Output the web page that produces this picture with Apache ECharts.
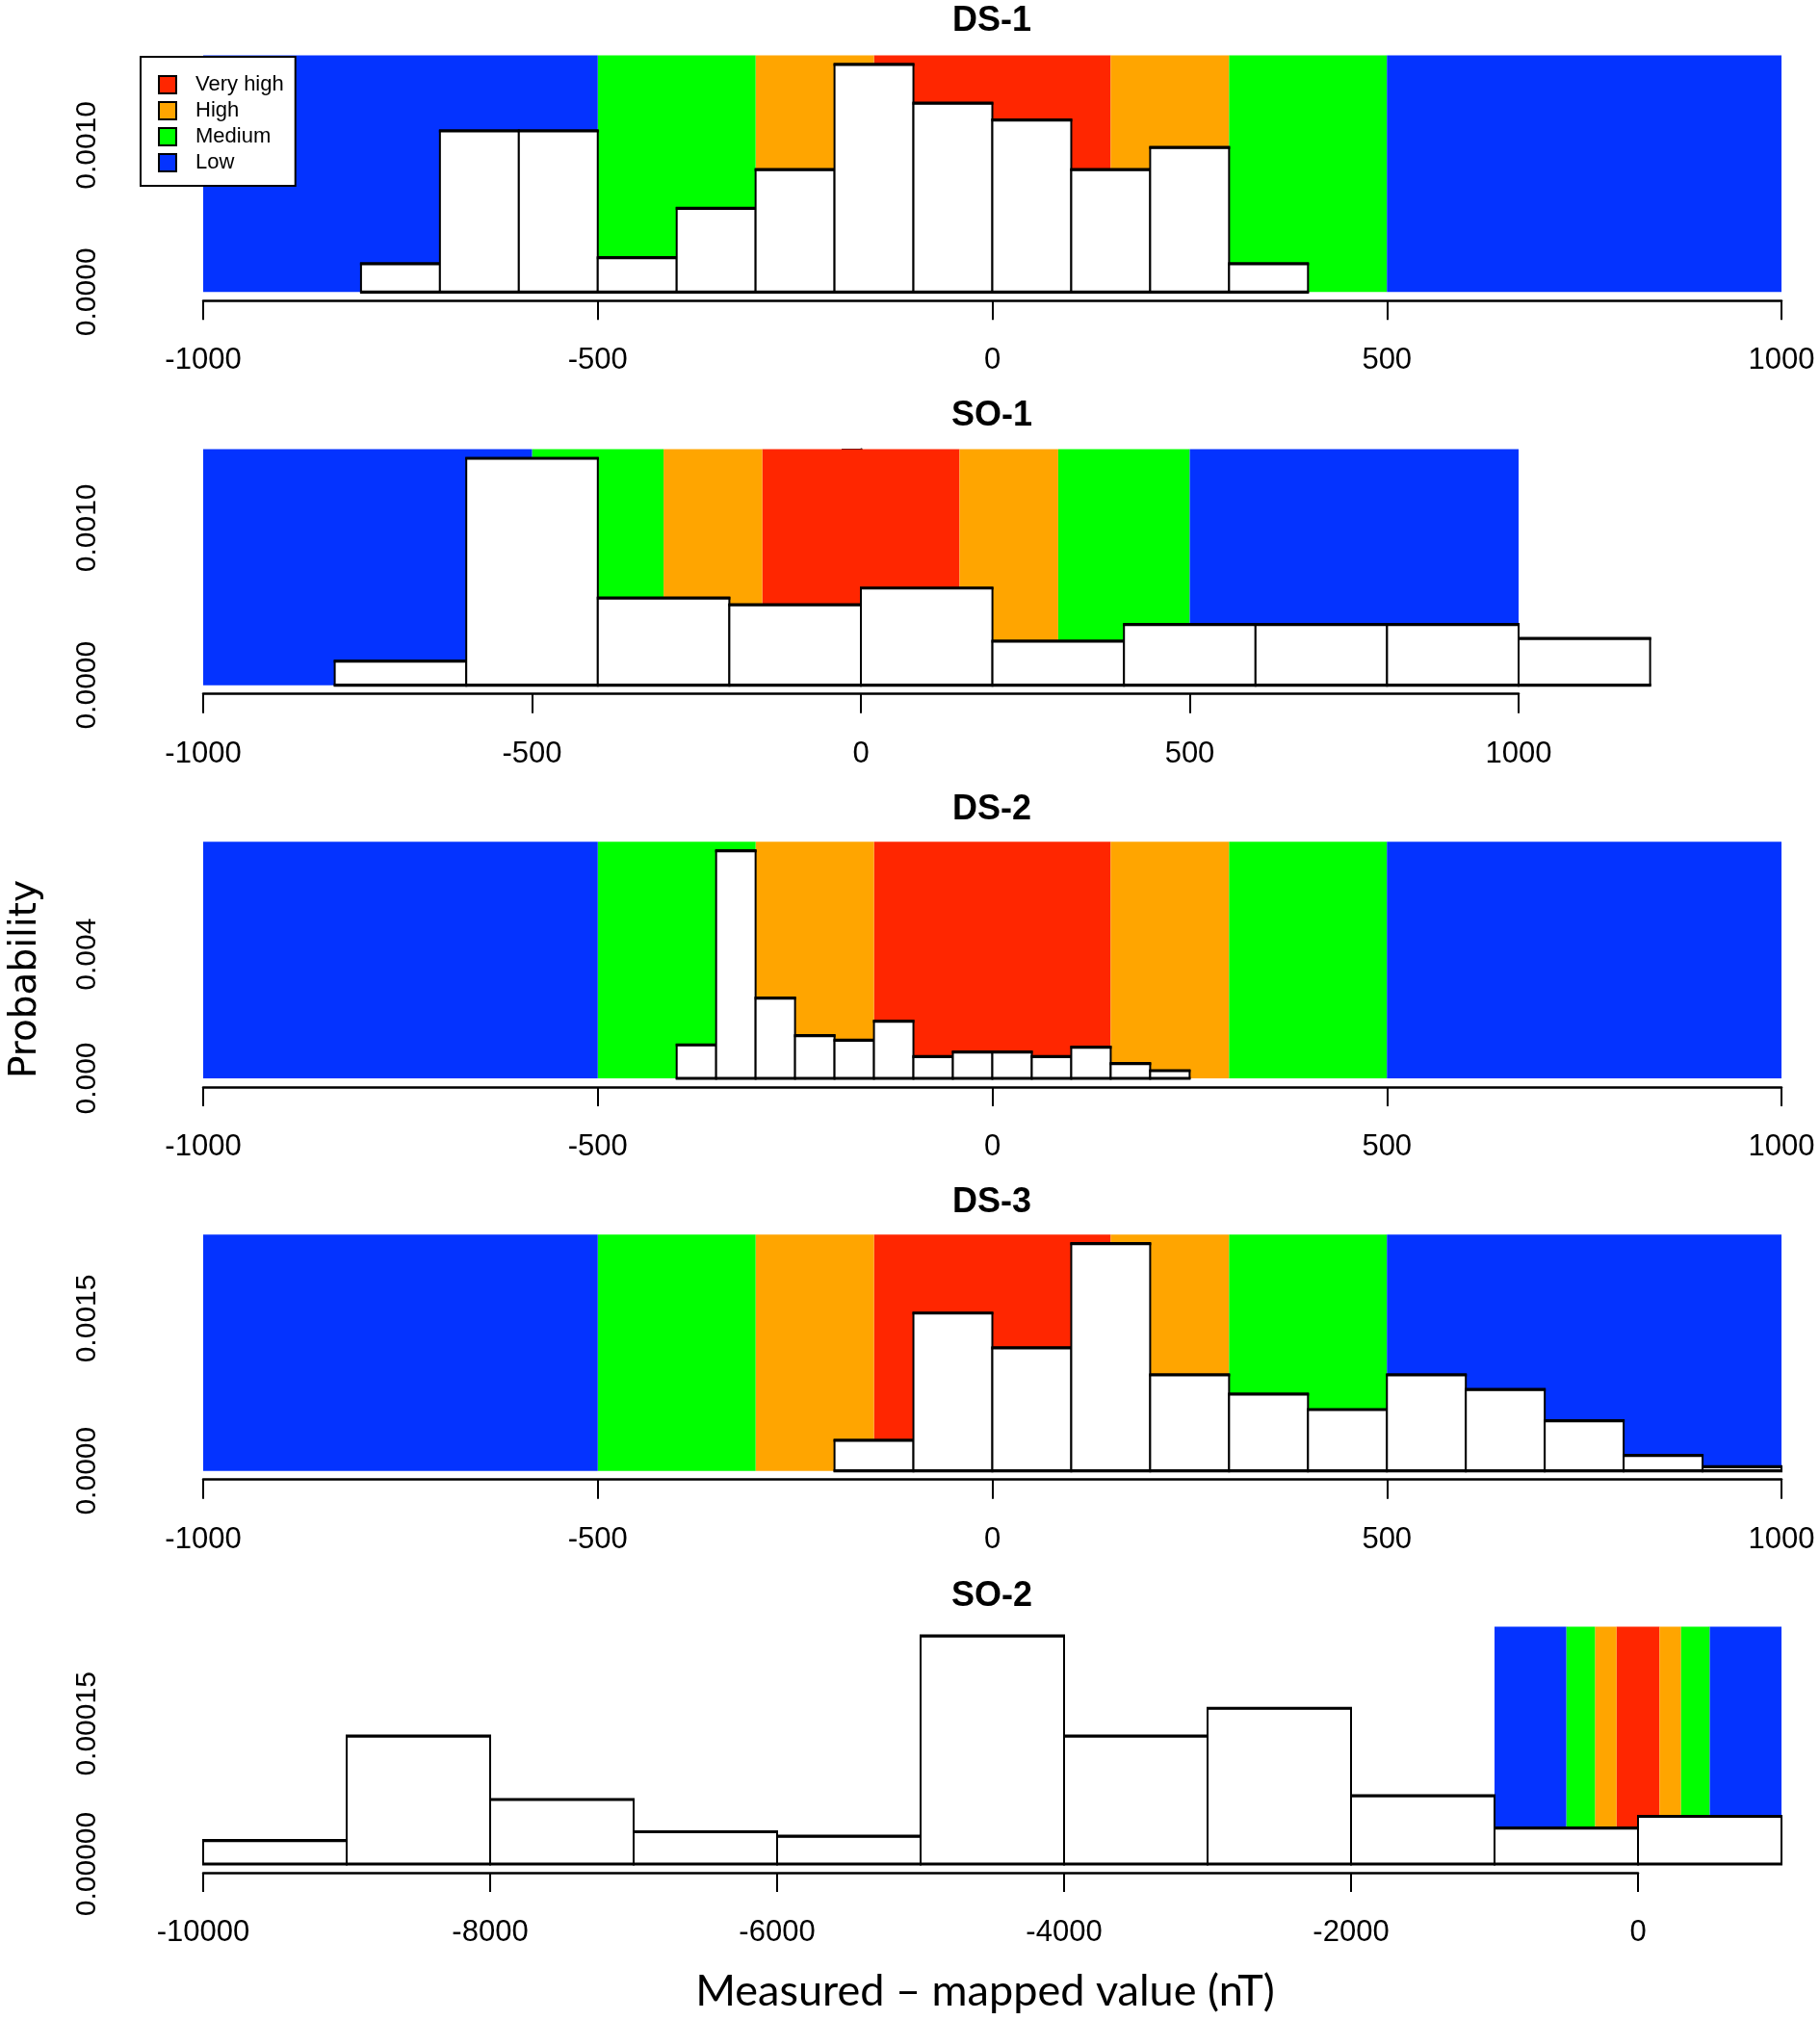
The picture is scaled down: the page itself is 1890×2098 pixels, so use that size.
<!DOCTYPE html>
<html>
<head>
<meta charset="utf-8">
<script src="https://cdn.jsdelivr.net/npm/echarts@6/dist/echarts.min.js"></script>
<style>
html,body{margin:0;padding:0;background:#fff;}
#chart{width:1890px;height:2098px;}
</style>
</head>
<body>
<div id="chart"></div>
<script>
// ---------- DATA ----------
const panelTitles = ['DS-1', 'SO-1', 'DS-2', 'DS-3', 'SO-2'];

const ds1Breaks = [-800, -700, -600, -500, -400, -300, -200, -100, 0, 100, 200, 300, 400];
const ds1Density = [0.000193, 0.001098, 0.001098, 0.000234, 0.000571, 0.000834, 0.001551, 0.001287, 0.001173, 0.000834, 0.000985, 0.000193];

const so1Breaks = [-800, -600, -400, -200, 0, 200, 400, 600, 800, 1000, 1200];
const so1Density = [0.000153, 0.001443, 0.000555, 0.000512, 0.000618, 0.000280, 0.000386, 0.000386, 0.000386, 0.000298];

const ds2Breaks = [-400, -350, -300, -250, -200, -150, -100, -50, 0, 50, 100, 150, 200, 250];
const ds2Density = [0.001078, 0.007337, 0.002591, 0.001378, 0.001233, 0.001845, 0.000705, 0.000850, 0.000850, 0.000705, 0.001005, 0.000477, 0.000249];

const ds3Breaks = [-200, -100, 0, 100, 200, 300, 400, 500, 600, 700, 800, 900, 1000];
const ds3Density = [0.000301, 0.001554, 0.001212, 0.002237, 0.000946, 0.000756, 0.000604, 0.000946, 0.000801, 0.000494, 0.000152, 0.000041];

const so2Breaks = [-10000, -9000, -8000, -7000, -6000, -5000, -4000, -3000, -2000, -1000, 0, 1000];
const so2Density = [0.0000252, 0.0001369, 0.0000690, 0.0000345, 0.0000297, 0.0002441, 0.0001369, 0.0001666, 0.0000731, 0.0000386, 0.0000510];

// susceptibility classes along the x axis (same for every panel)
const bandEdges = [-1000, -500, -300, -150, 150, 300, 500, 1000];
const bandLevels = ['Low', 'Medium', 'High', 'Very high', 'High', 'Medium', 'Low'];
const levelNames = ['Very high', 'High', 'Medium', 'Low'];

// tick labels
const dsXLabels = ['-1000', '-500', '0', '500', '1000'];
const so2XLabels = ['-10000', '-8000', '-6000', '-4000', '-2000', '0'];
const ds1YLabels = ['0.0000', '', '0.0010', ''];
const so1YLabels = ['0.0000', '', '0.0010', ''];
const ds2YLabels = ['0.000', '', '0.004', ''];
const ds3YLabels = ['0.0000', '', '', '0.0015', ''];
const so2YLabels = ['0.00000', '', '', '0.00015', '', ''];

const xAxisTitle = 'Measured \u2013 mapped value (nT)';
const yAxisTitle = 'Probability';

// ---------- STYLE / LAYOUT ----------
const levelColors = { 'Very high': '#FF2600', 'High': '#FFA500', 'Medium': '#00FF00', 'Low': '#0433FF' };

const breaksList = [ds1Breaks, so1Breaks, ds2Breaks, ds3Breaks, so2Breaks];
const densityList = [ds1Density, so1Density, ds2Density, ds3Density, so2Density];
const xLabelList = [dsXLabels, dsXLabels, dsXLabels, dsXLabels, so2XLabels];
const yLabelList = [ds1YLabels, so1YLabels, ds2YLabels, ds3YLabels, so2YLabels];

const layout = [
  { top: 74.7,   height: 228.6, width: 1639, xMin: -1000,  xMax: 1000, xInt: 500,  yMax: 0.0015,  yInt: 0.0005,  titleTop: 4 },
  { top: 466.7,  height: 245.0, width: 1366, xMin: -1000,  xMax: 1000, xInt: 500,  yMax: 0.0015,  yInt: 0.0005,  titleTop: 414 },
  { top: 926.7,  height: 193.3, width: 1639, xMin: -1000,  xMax: 1000, xInt: 500,  yMax: 0.006,   yInt: 0.002,   titleTop: 823 },
  { top: 1316.7, height: 211.0, width: 1639, xMin: -1000,  xMax: 1000, xInt: 500,  yMax: 0.002,   yInt: 0.0005,  titleTop: 1231 },
  { top: 1693.3, height: 242.7, width: 1490, xMin: -10000, xMax: 0,    xInt: 2000, yMax: 0.00025, yInt: 0.00005, titleTop: 1640 }
];
const GRID_LEFT = 211;
const FONT = '"Liberation Sans", Arial, sans-serif';

const grids = [], xAxes = [], yAxes = [], titles = [], series = [];

layout.forEach((L, p) => {
  grids.push({ left: GRID_LEFT, top: L.top, width: L.width, height: L.height, containLabel: false });
  titles.push({
    text: panelTitles[p], left: 1030, top: L.titleTop, textAlign: 'center', padding: 0,
    textStyle: { fontSize: 36, fontWeight: 'bold', fontFamily: FONT, color: '#000' }
  });
  const xl = xLabelList[p], yl = yLabelList[p];
  xAxes.push({
    gridIndex: p, type: 'value', min: L.xMin, max: L.xMax, interval: L.xInt, offset: 9,
    axisLine: { show: true, onZero: false, lineStyle: { color: '#000', width: 2.5 } },
    axisTick: { show: true, length: 20, lineStyle: { color: '#000', width: 2 } },
    splitLine: { show: false },
    axisLabel: { fontSize: 31, fontFamily: FONT, color: '#000', margin: 47,
      formatter: (v, i) => xl[i] !== undefined ? xl[i] : '' }
  });
  yAxes.push({
    gridIndex: p, type: 'value', min: 0, max: L.yMax, interval: L.yInt, offset: 65,
    axisLine: { show: true, lineStyle: { color: '#000', width: 2.5 } },
    axisTick: { show: true, length: 20, lineStyle: { color: '#000', width: 2 } },
    splitLine: { show: false },
    axisLabel: { fontSize: 30, fontFamily: FONT, color: '#000', rotate: 90, margin: 40,
      formatter: (v, i) => yl[i] !== undefined ? yl[i] : '' }
  });

  const dens = densityList[p], brk = breaksList[p];
  const bandTop = 1.04 * Math.max.apply(null, dens);

  // colour bands, one series per class (used by the legend)
  levelNames.forEach(level => {
    const data = [];
    bandLevels.forEach((lv, k) => { if (lv === level) data.push([bandEdges[k], bandEdges[k + 1], bandTop]); });
    series.push({
      type: 'custom', name: level, xAxisIndex: p, yAxisIndex: p, clip: false, z: 1,
      silent: true, animation: false,
      itemStyle: { color: levelColors[level], borderColor: '#000', borderWidth: 2 },
      encode: { x: [0, 1], y: 2 },
      data: data,
      renderItem: (params, api) => {
        const a = api.coord([api.value(0), 0]);
        const b = api.coord([api.value(1), api.value(2)]);
        return { type: 'rect', shape: { x: a[0], y: b[1], width: b[0] - a[0], height: a[1] - b[1] },
          style: { fill: levelColors[level] } };
      }
    });
  });

  // histogram
  const hdata = dens.map((d, k) => [brk[k], brk[k + 1], d]);
  series.push({
    type: 'custom', name: panelTitles[p] + ' histogram', xAxisIndex: p, yAxisIndex: p, clip: false, z: 3,
    silent: true, animation: false,
    encode: { x: [0, 1], y: 2 },
    data: hdata,
    renderItem: (params, api) => {
      const a = api.coord([api.value(0), 0]);
      const b = api.coord([api.value(1), api.value(2)]);
      return { type: 'group', children: [
        { type: 'rect', shape: { x: a[0], y: b[1], width: b[0] - a[0], height: a[1] - b[1] },
          style: { fill: '#fff', stroke: '#000', lineWidth: 2 } },
        { type: 'line', shape: { x1: a[0] - 1, y1: b[1], x2: b[0] + 1, y2: b[1] }, style: { stroke: '#000', lineWidth: 3.2 } },
        { type: 'line', shape: { x1: a[0] - 1, y1: a[1], x2: b[0] + 1, y2: a[1] }, style: { stroke: '#000', lineWidth: 3.2 } }
      ] };
    }
  });
});

const chart = echarts.init(document.getElementById('chart'), null, { renderer: 'canvas' });
chart.setOption({
  backgroundColor: '#fff',
  animation: false,
  title: titles,
  grid: grids,
  xAxis: xAxes,
  yAxis: yAxes,
  legend: {
    data: levelNames, left: 146, top: 59, orient: 'vertical', icon: 'rect',
    itemWidth: 18, itemHeight: 18, itemGap: 5,
    padding: [18, 12, 13, 18],
    backgroundColor: '#fff', borderColor: '#000', borderWidth: 2,
    itemStyle: { borderColor: '#000', borderWidth: 2 },
    textStyle: { fontSize: 22, fontFamily: FONT, color: '#000', padding: [0, 0, 0, 15] },
    selectedMode: false, z: 10
  },
  graphic: [
    { type: 'text', x: 27, y: 1017, rotation: Math.PI / 2, z: 10,
      style: { text: yAxisTitle, fontSize: 39, fontFamily: '"DejaVu Sans", sans-serif', fill: '#000',
        align: 'center', verticalAlign: 'middle', textAlign: 'center', textVerticalAlign: 'middle' } },
    { type: 'text', x: 1023, y: 2068, z: 10,
      style: { text: xAxisTitle, fontSize: 45, fontFamily: 'Lato, "Open Sans", sans-serif', fill: '#000',
        align: 'center', verticalAlign: 'middle', textAlign: 'center', textVerticalAlign: 'middle' } }
  ],
  series: series
});
</script>
</body>
</html>
